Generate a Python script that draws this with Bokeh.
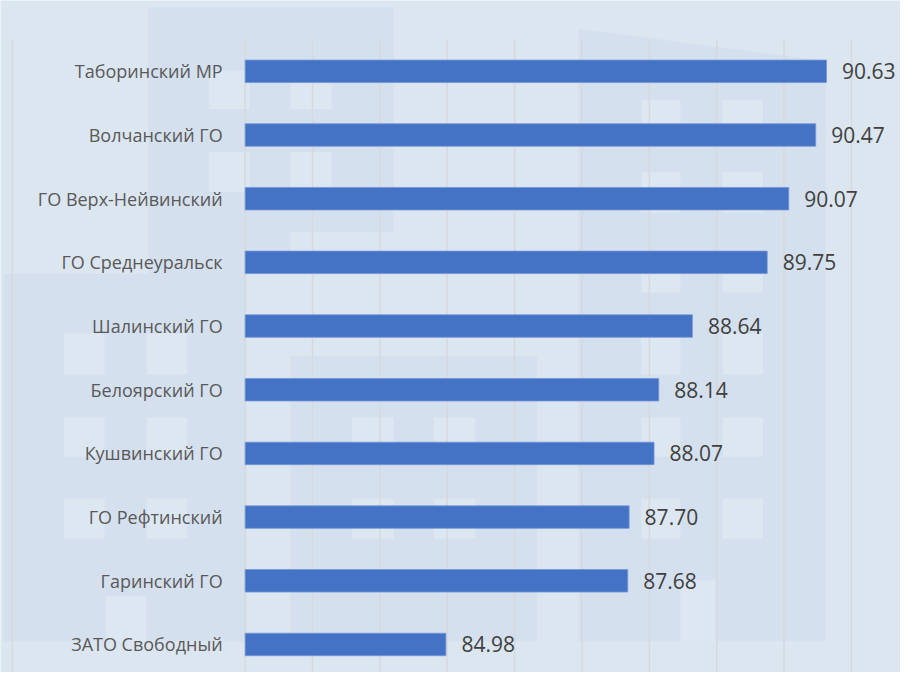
from bokeh.plotting import figure
from bokeh.models import Range1d, ColumnDataSource
from bokeh.core.properties import value
from bokeh.embed import file_html
from bokeh.resources import INLINE

# ---- data ----
categories = ["Таборинский МР", "Волчанский ГО", "ГО Верх-Нейвинский", "ГО Среднеуральск",
              "Шалинский ГО", "Белоярский ГО", "Кушвинский ГО", "ГО Рефтинский",
              "Гаринский ГО", "ЗАТО Свободный"]
values = [90.63, 90.47, 90.07, 89.75, 88.64, 88.14, 88.07, 87.70, 87.68, 84.98]
axis_min = 82
grid_ticks = [82, 83, 84, 85, 86, 87, 88, 89, 90, 91]

# ---- style ----
BG = "#dce6f1"
DECOR = "#d5e0ee"
WIN = "#dde7f2"
BAR = "#4472c4"
TXT = "#595959"
VAL = "#404040"
GRID = "#d6d8dc"
FONT = "Open Sans"

# layout mapping (reference pixel -> data space), used for the frame and decorations
PPU = 68.56        # pixels per value unit
X_AT_MIN = 249     # pixel of axis_min
PITCH = 65.2       # pixels per category
Y_FIRST = 72.5     # pixel of first category centre


def X(px):
    return axis_min + (px - X_AT_MIN) / PPU


def Y(py):
    return (py - Y_FIRST) / PITCH


# decorative background (faint buildings), in reference pixels: (x0, x1, y0, y1)
bldg = [(150, 400, 7, 237), (150, 295, 237, 280), (3, 250, 280, 656), (295, 546, 364, 656)]
roof_bldg = [(588, 29), (840, 62), (840, 656), (588, 656)]
windows = [(212, 253, 72, 111), (295, 337, 72, 111), (212, 253, 155, 196), (295, 337, 155, 196),
           (65, 106, 341, 383), (149, 190, 341, 383), (65, 106, 427, 467), (149, 190, 427, 467),
           (65, 106, 510, 551), (149, 190, 510, 551), (107, 148, 610, 656),
           (358, 400, 427, 467), (441, 483, 427, 467), (358, 400, 510, 551), (441, 483, 510, 551),
           (652, 692, 102, 141), (735, 776, 102, 141), (652, 692, 176, 217), (735, 776, 176, 217),
           (652, 692, 258, 299), (735, 776, 258, 299), (652, 692, 341, 383), (735, 776, 341, 383),
           (652, 692, 427, 467), (735, 776, 427, 467), (652, 692, 510, 551), (735, 776, 510, 551),
           (692, 728, 594, 656)]

idx = list(range(len(categories)))
src = ColumnDataSource(dict(
    y=idx, left=[axis_min] * len(values), right=values,
    cat=categories, lab=[f"{v:.2f}" for v in values], base=[axis_min] * len(values),
))

p = figure(width=900, height=672, output_backend="svg", toolbar_location=None,
           x_range=Range1d(X(0), X(916)), y_range=Range1d(Y(688), Y(0)),
           min_border_left=0, min_border_right=0, min_border_top=0, min_border_bottom=0)
p.background_fill_color = BG
p.border_fill_color = BG
p.outline_line_color = None
p.xaxis.visible = False
p.yaxis.visible = False
p.xgrid.grid_line_color = None
p.ygrid.grid_line_color = None

# background decorations
p.quad(left=[X(b[0]) for b in bldg], right=[X(b[1]) for b in bldg],
       top=[Y(b[2]) for b in bldg], bottom=[Y(b[3]) for b in bldg],
       fill_color=DECOR, line_color=None, level="image")
p.patch(x=[X(a) for a, b in roof_bldg], y=[Y(b) for a, b in roof_bldg],
        fill_color=DECOR, line_color=None, level="image")
p.quad(left=[X(b[0]) for b in windows], right=[X(b[1]) for b in windows],
       top=[Y(b[2]) for b in windows], bottom=[Y(b[3]) for b in windows],
       fill_color=WIN, line_color=None, level="image")

# gridlines (value ticks + left border line)
gx = [X(12)] + grid_ticks
p.segment(x0=gx, x1=gx, y0=[-0.5] * len(gx), y1=[Y(688)] * len(gx),
          line_color=GRID, line_width=1.4, level="underlay")

p.hbar(y="y", left="left", right="right", height=0.353, source=src,
       fill_color=BAR, line_color="#7396d6", line_width=0.8)

p.text(x="right", y="y", text="lab", source=src, x_offset=15.5,
       text_align="left", text_baseline="middle", text_color=VAL,
       text_font=value(FONT), text_font_size="21px")
p.text(x="base", y="y", text="cat", source=src, x_offset=-22.5,
       text_align="right", text_baseline="middle", text_color=TXT,
       text_font=value(FONT), text_font_size="18px")

open("out.html", "w").write(file_html(p, INLINE))
